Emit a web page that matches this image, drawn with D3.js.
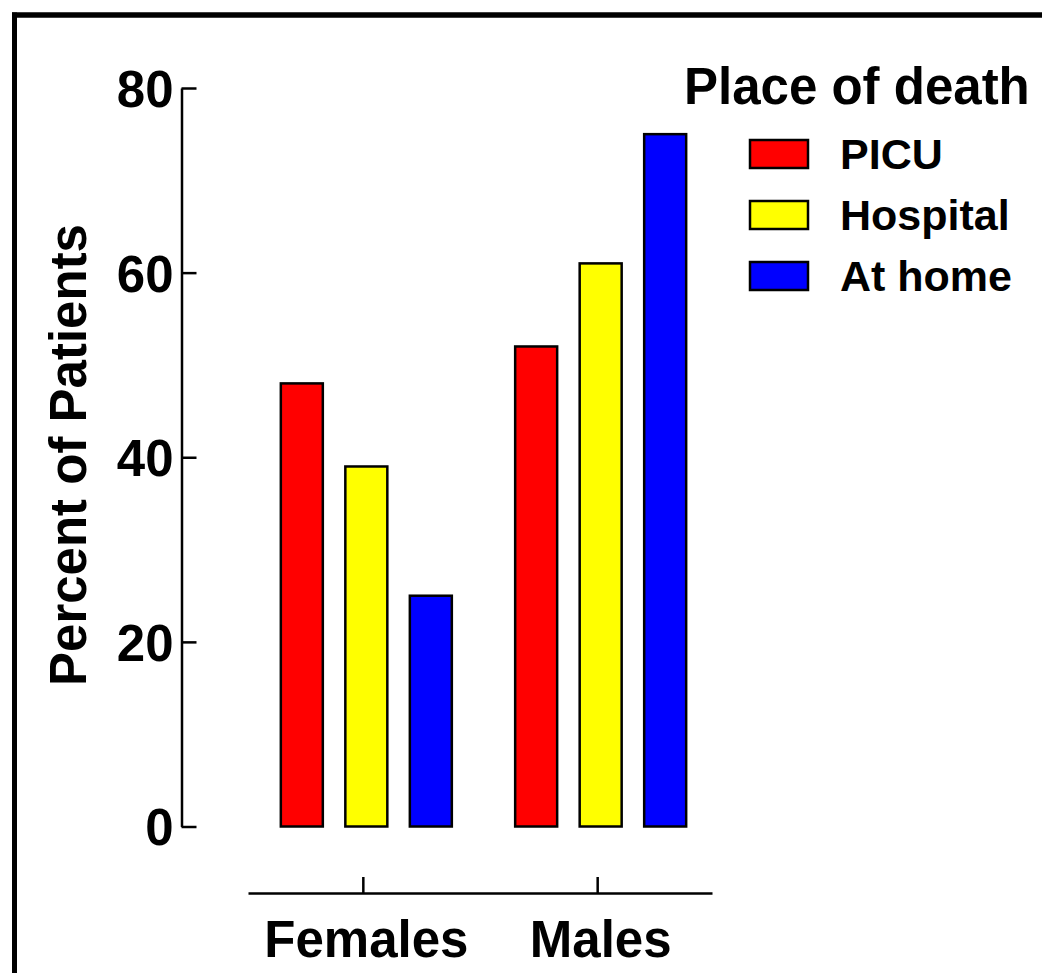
<!DOCTYPE html>
<html>
<head>
<meta charset="utf-8">
<script src="https://cdn.jsdelivr.net/npm/d3@7"></script>
<style>
  html, body { margin: 0; padding: 0; background: #fff; }
  svg { display: block; font-family: "Liberation Sans", Arial, sans-serif; font-weight: bold; }
</style>
</head>
<body>
<div id="chart"></div>
<script>
const groups = ['Females', 'Males'];
const places = ['PICU', 'Hospital', 'At home'];
const placeColors = ['#ff0000', '#ffff00', '#0000ff'];
const picuValues = [48, 52];
const hospitalValues = [39, 61];
const homeValues = [25, 75];
const yTicks = [0, 20, 40, 60, 80];

const width = 1042, height = 973;

const svg = d3.select('#chart').append('svg')
  .attr('width', width)
  .attr('height', height);

// frame (top and left only)
svg.append('line')
  .attr('x1', 12).attr('x2', width).attr('y1', 15).attr('y2', 15)
  .attr('stroke', '#000').attr('stroke-width', 5.5);
svg.append('line')
  .attr('x1', 14.5).attr('x2', 14.5).attr('y1', 12.5).attr('y2', height)
  .attr('stroke', '#000').attr('stroke-width', 5);

const yScale = d3.scaleLinear().domain([0, 80]).range([826.5, 88]);

const xScale = d3.scalePoint()
  .domain(groups)
  .range([248, 712])
  .padding(0.49);

const subScale = d3.scaleBand()
  .domain(places)
  .range([-85.5, 85.5])
  .paddingInner(0.349)
  .paddingOuter(0);

const color = d3.scaleOrdinal().domain(places).range(placeColors);

const rows = [];
groups.forEach((g, i) => {
  rows.push({ group: g, place: 'PICU', value: picuValues[i] });
  rows.push({ group: g, place: 'Hospital', value: hospitalValues[i] });
  rows.push({ group: g, place: 'At home', value: homeValues[i] });
});

// y axis, ticks pointing inward
const yAxis = svg.append('g')
  .attr('transform', 'translate(181.5,0)')
  .call(d3.axisRight(yScale).tickValues(yTicks).tickSize(15).tickSizeOuter(0));
yAxis.select('.domain').attr('stroke', '#000').attr('stroke-width', 2.5);
yAxis.selectAll('.tick line').attr('stroke', '#000').attr('stroke-width', 2.5);
yAxis.selectAll('.tick text')
  .attr('x', -8)
  .attr('text-anchor', 'end')
  .attr('dy', '0.36em')
  .attr('font-size', 51)
  .attr('font-weight', 'bold')
  .attr('font-family', '"Liberation Sans", Arial, sans-serif')
  .attr('fill', '#000');

// x axis, ticks pointing up
const xAxis = svg.append('g')
  .attr('transform', 'translate(0,893)')
  .call(d3.axisTop(xScale).tickSize(16).tickSizeOuter(0));
xAxis.select('.domain').attr('stroke', '#000').attr('stroke-width', 2.5);
xAxis.selectAll('.tick line').attr('stroke', '#000').attr('stroke-width', 2.5);
xAxis.selectAll('.tick text')
  .attr('y', 64)
  .attr('dy', 0)
  .attr('dx', 3)
  .attr('font-size', 51)
  .attr('font-weight', 'bold')
  .attr('font-family', '"Liberation Sans", Arial, sans-serif')
  .attr('fill', '#000');

// bars
svg.append('g')
  .selectAll('rect')
  .data(rows)
  .enter()
  .append('rect')
  .attr('x', d => xScale(d.group) + 3.5 + subScale(d.place))
  .attr('y', d => yScale(d.value))
  .attr('width', subScale.bandwidth())
  .attr('height', d => yScale(0) - yScale(d.value))
  .attr('fill', d => color(d.place))
  .attr('stroke', '#000')
  .attr('stroke-width', 2.5);

// y axis title
svg.append('text')
  .attr('transform', 'translate(86,455) rotate(-90)')
  .attr('text-anchor', 'middle')
  .attr('font-size', 51)
  .text('Percent of Patients');

// legend
svg.append('text')
  .attr('x', 684)
  .attr('y', 104)
  .attr('font-size', 51)
  .text('Place of death');

const legend = svg.append('g')
  .selectAll('g')
  .data(places)
  .enter()
  .append('g')
  .attr('transform', (d, i) => `translate(750,${140 + i * 61})`);

legend.append('rect')
  .attr('width', 58)
  .attr('height', 28)
  .attr('fill', d => color(d))
  .attr('stroke', '#000')
  .attr('stroke-width', 2.5);

legend.append('text')
  .attr('x', 90)
  .attr('y', 29)
  .attr('font-size', 43)
  .text(d => d);
</script>
</body>
</html>
